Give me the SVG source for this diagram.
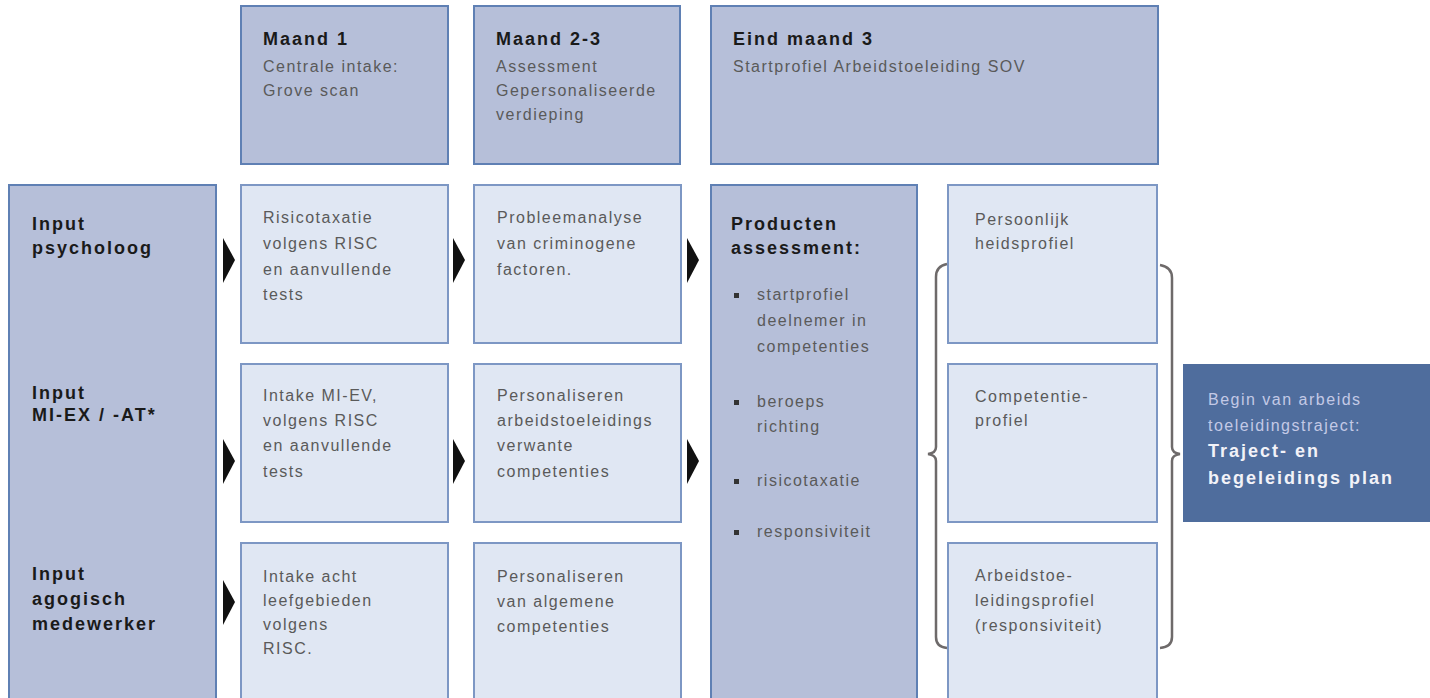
<svg xmlns="http://www.w3.org/2000/svg" width="1430" height="698" viewBox="0 0 1430 698">
<style>
.dark{fill:#b6bfd9;stroke:#5f80b4;stroke-width:2}
.light{fill:#e0e7f3;stroke:#7d97c4;stroke-width:2}
.final{fill:#4f6d9d;stroke:none}
.b{font-family:"Liberation Sans",Arial,sans-serif;font-weight:bold;font-size:18px;letter-spacing:2px;fill:#1a1a1a}
.t{font-family:"Liberation Sans",Arial,sans-serif;font-size:16px;letter-spacing:1.5px;fill:#5a5a5a}
.tl{font-family:"Liberation Sans",Arial,sans-serif;font-size:16px;letter-spacing:1.5px;fill:#c3c9e6}
.bw{font-family:"Liberation Sans",Arial,sans-serif;font-weight:bold;font-size:18px;letter-spacing:2px;fill:#f2f2f8}
.arrow{fill:#111}
.brace{fill:none;stroke:#6e6a6a;stroke-width:2.5}
.bullet{fill:#333}
</style>
<rect width="1430" height="698" fill="#ffffff"/>

<g id="header1"><rect class="dark" x="241" y="6" width="207" height="158"/>
<text class="b" x="263" y="45">Maand 1</text>
<text class="t" x="263" y="72">Centrale intake:</text>
<text class="t" x="263" y="96">Grove scan</text></g>

<g id="header2"><rect class="dark" x="474" y="6" width="206" height="158"/>
<text class="b" x="496" y="45">Maand 2-3</text>
<text class="t" x="496" y="72">Assessment</text>
<text class="t" x="496" y="96">Gepersonaliseerde</text>
<text class="t" x="496" y="120">verdieping</text></g>

<g id="header3"><rect class="dark" x="711" y="6" width="447" height="158"/>
<text class="b" x="733" y="45">Eind maand 3</text>
<text class="t" x="733" y="72">Startprofiel Arbeidstoeleiding SOV</text></g>

<g id="inputs"><rect class="dark" x="9" y="185" width="207" height="520"/>
<text class="b" x="32" y="230">Input</text>
<text class="b" x="32" y="254">psycholoog</text>
<text class="b" x="32" y="399">Input</text>
<text class="b" x="32" y="421">MI-EX / -AT*</text>
<text class="b" x="32" y="580">Input</text>
<text class="b" x="32" y="605">agogisch</text>
<text class="b" x="32" y="630">medewerker</text></g>

<g id="r1c1"><rect class="light" x="241" y="185" width="207" height="158"/>
<text class="t" x="263" y="223">Risicotaxatie</text>
<text class="t" x="263" y="249">volgens RISC</text>
<text class="t" x="263" y="275">en aanvullende</text>
<text class="t" x="263" y="300">tests</text></g>

<g id="r2c1"><rect class="light" x="241" y="364" width="207" height="158"/>
<text class="t" x="263" y="401">Intake MI-EV,</text>
<text class="t" x="263" y="426">volgens RISC</text>
<text class="t" x="263" y="451">en aanvullende</text>
<text class="t" x="263" y="477">tests</text></g>

<g id="r3c1"><rect class="light" x="241" y="543" width="207" height="165"/>
<text class="t" x="263" y="582">Intake acht</text>
<text class="t" x="263" y="606">leefgebieden</text>
<text class="t" x="263" y="630">volgens</text>
<text class="t" x="263" y="654">RISC.</text></g>

<g id="r1c2"><rect class="light" x="474" y="185" width="207" height="158"/>
<text class="t" x="497" y="223">Probleemanalyse</text>
<text class="t" x="497" y="249">van criminogene</text>
<text class="t" x="497" y="275">factoren.</text></g>

<g id="r2c2"><rect class="light" x="474" y="364" width="207" height="158"/>
<text class="t" x="497" y="401">Personaliseren</text>
<text class="t" x="497" y="426">arbeidstoeleidings</text>
<text class="t" x="497" y="451">verwante</text>
<text class="t" x="497" y="477">competenties</text></g>

<g id="r3c2"><rect class="light" x="474" y="543" width="207" height="165"/>
<text class="t" x="497" y="582">Personaliseren</text>
<text class="t" x="497" y="607">van algemene</text>
<text class="t" x="497" y="632">competenties</text></g>

<g id="products"><rect class="dark" x="711" y="185" width="206" height="520"/>
<text class="b" x="731" y="230">Producten</text>
<text class="b" x="731" y="254">assessment:</text>
<rect class="bullet" x="734" y="293" width="5" height="5"/>
<text class="t" x="757" y="300">startprofiel</text>
<text class="t" x="757" y="326">deelnemer in</text>
<text class="t" x="757" y="352">competenties</text>
<rect class="bullet" x="734" y="400" width="5" height="5"/>
<text class="t" x="757" y="407">beroeps</text>
<text class="t" x="757" y="432">richting</text>
<rect class="bullet" x="734" y="479" width="5" height="5"/>
<text class="t" x="757" y="486">risicotaxatie</text>
<rect class="bullet" x="734" y="530" width="5" height="5"/>
<text class="t" x="757" y="537">responsiviteit</text></g>

<g id="r1c4"><rect class="light" x="948" y="185" width="209" height="158"/>
<text class="t" x="975" y="225">Persoonlijk</text>
<text class="t" x="975" y="249">heidsprofiel</text></g>

<g id="r2c4"><rect class="light" x="948" y="364" width="209" height="158"/>
<text class="t" x="975" y="402">Competentie-</text>
<text class="t" x="975" y="426">profiel</text></g>

<g id="r3c4"><rect class="light" x="948" y="543" width="209" height="165"/>
<text class="t" x="975" y="581">Arbeidstoe-</text>
<text class="t" x="975" y="606">leidingsprofiel</text>
<text class="t" x="975" y="631">(responsiviteit)</text></g>

<g id="final"><rect class="final" x="1183" y="364" width="247" height="158"/>
<text class="tl" x="1208" y="405">Begin van arbeids</text>
<text class="tl" x="1208" y="431">toeleidingstraject:</text>
<text class="bw" x="1208" y="457">Traject- en</text>
<text class="bw" x="1208" y="484">begeleidings plan</text></g>

<g id="connectors">
<polygon class="arrow" points="223,238 235,260 223,283"/>
<polygon class="arrow" points="453,238 465,260 453,283"/>
<polygon class="arrow" points="687,238 699,260 687,283"/>
<polygon class="arrow" points="223,439 235,461 223,484"/>
<polygon class="arrow" points="453,439 465,461 453,484"/>
<polygon class="arrow" points="687,439 699,461 687,484"/>
<polygon class="arrow" points="223,580 235,602 223,625"/>
<path class="brace" d="M947,264 Q936,266 936,277 L936,447 Q936,453 928,454 Q936,455 936,461 L936,637 Q936,647 947,648"/>
<path class="brace" d="M1160,265 Q1172,267 1172,278 L1172,447 Q1172,453 1180,454 Q1172,455 1172,461 L1172,637 Q1172,647 1160,648"/>
</g>
</svg>
